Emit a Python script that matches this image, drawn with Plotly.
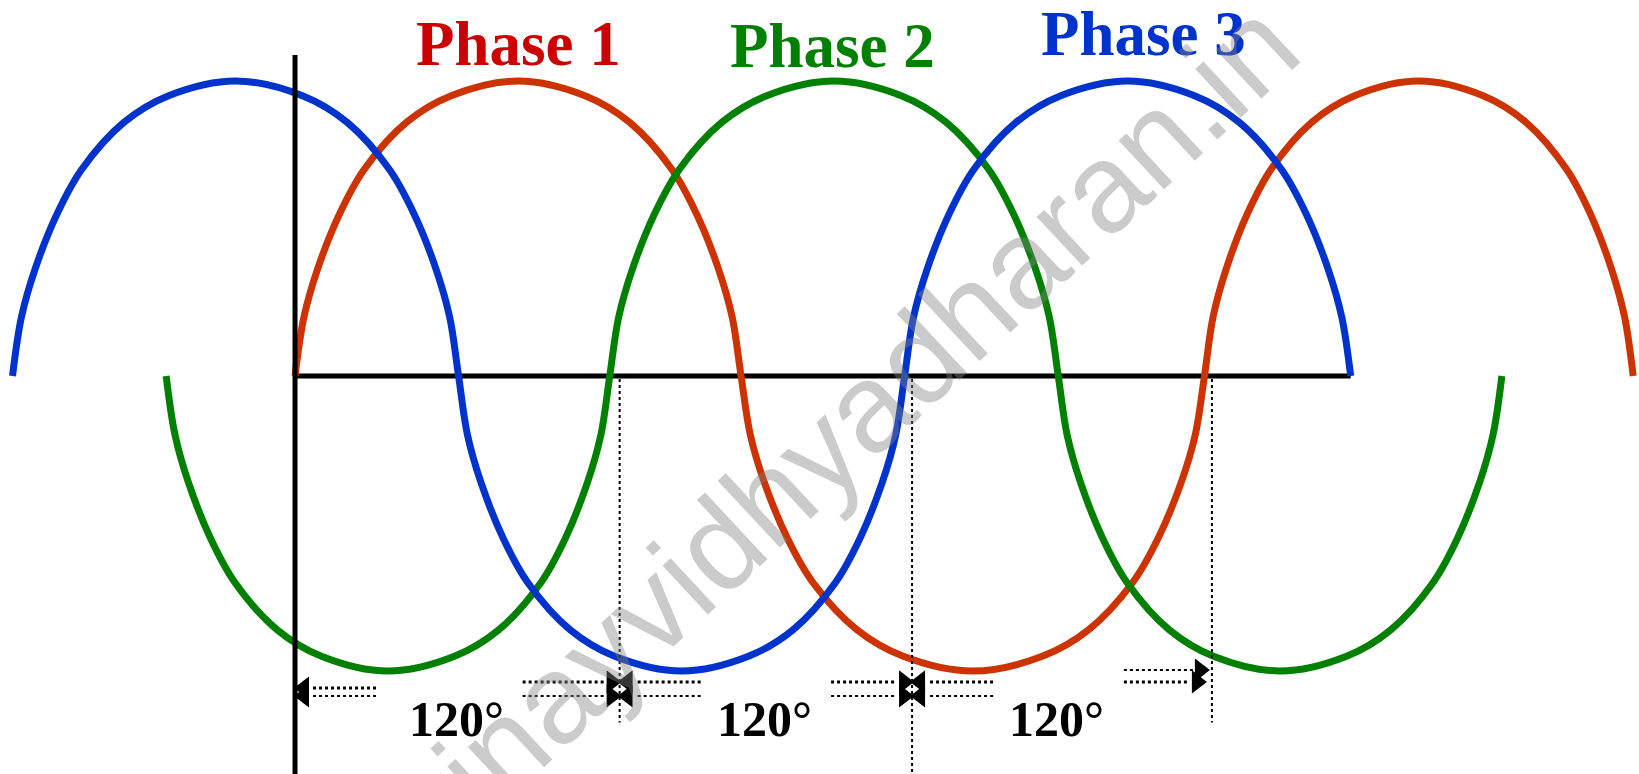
import plotly.graph_objects as go

# ---------------- data ----------------
# x axis is the phase angle in degrees (Phase 1 starts at 0 deg), y is the normalised amplitude
PHASE_NAMES = ["Phase 1", "Phase 2", "Phase 3"]
# zero crossings of each drawn waveform (degrees)
PHASE1_ZEROS = [0, 180, 367, 540]
PHASE2_ZEROS = [-52, 127, 308, 487]
PHASE3_ZEROS = [-114, 66, 246, 426]
# sign of the first half-cycle of each waveform
PHASE1_FIRST_SIGN = 1
PHASE2_FIRST_SIGN = -1
PHASE3_FIRST_SIGN = 1
# shape of one drawn half-cycle: amplitude at fractions of the half-cycle width
HALF_FRAC = [0, 0.02, 0.05, 0.10, 0.155, 0.25, 0.35, 0.50, 0.65, 0.75, 0.845, 0.90, 0.95, 0.98, 1.0]
HALF_AMP = [0, 0.20, 0.36, 0.55, 0.70, 0.86, 0.95, 1.00, 0.95, 0.86, 0.70, 0.55, 0.36, 0.20, 0]
# 120 degree marks along the time axis (degrees)
MARKS_DEG = [0, 131, 249, 370]
ANGLE_LABELS = ["120°", "120°", "120°"]
AXIS_END_DEG = 426
WATERMARK = "www.vinayvidhyadharan.in"

# ---------------- styling ----------------
CURVE_COLORS = ["#CC3300", "#008000", "#0033CC"]
TEXT_COLORS = ["#CC0000", "#008000", "#0033CC"]
W, H = 1639, 774
XR = [-119.05, 542.35]
YR = [-1.3492, 1.2746]


def waveform(zeros, first_sign):
    xs, ys = [], []
    for i in range(len(zeros) - 1):
        z0, z1 = zeros[i], zeros[i + 1]
        sign = first_sign * (-1) ** i
        for j, (f, a) in enumerate(zip(HALF_FRAC, HALF_AMP)):
            if i > 0 and j == 0:
                continue
            xs.append(z0 + f * (z1 - z0))
            ys.append(sign * a)
    return xs, ys


fig = go.Figure()

# horizontal zero axis
fig.add_trace(go.Scatter(x=[0, AXIS_END_DEG], y=[0, 0], mode="lines",
                         line=dict(color="black", width=5), hoverinfo="skip"))

waves = [(PHASE1_ZEROS, PHASE1_FIRST_SIGN), (PHASE2_ZEROS, PHASE2_FIRST_SIGN),
         (PHASE3_ZEROS, PHASE3_FIRST_SIGN)]
for (zeros, s), col, name in zip(waves, CURVE_COLORS, PHASE_NAMES):
    xs, ys = waveform(zeros, s)
    fig.add_trace(go.Scatter(x=xs, y=ys, mode="lines", name=name,
                             line=dict(color=col, width=7, shape="spline", smoothing=1.0)))

# vertical axis
fig.add_trace(go.Scatter(x=[0, 0], y=[1.088, YR[0]], mode="lines",
                         line=dict(color="black", width=5), hoverinfo="skip"))

# dotted vertical marks
vend = {131: -1.175, 249: YR[0], 370: -1.175}
for m in MARKS_DEG[1:]:
    fig.add_trace(go.Scatter(x=[m, m], y=[-0.01, vend[m]], mode="lines",
                             line=dict(color="black", width=2, dash="dot"), hoverinfo="skip"))

PX = (XR[1] - XR[0]) / W  # degrees per pixel
# arrows: (tail_deg, tip_deg, y, line width)
arrows = []
m0, m1, m2, m3 = MARKS_DEG
arrows += [(m0 + 81 * PX, m0 + 1 * PX, -1.058, 3), (m0 + 81 * PX, m0 + 1 * PX, -1.085, 2)]
arrows += [(m1 - 97 * PX, m1, -1.037, 3), (m1 - 97 * PX, m1, -1.085, 2)]
arrows += [(m1 + 81 * PX, m1, -1.037, 3), (m1 + 81 * PX, m1, -1.085, 2)]
arrows += [(m2 - 81 * PX, m2, -1.037, 3), (m2 - 81 * PX, m2, -1.085, 2)]
arrows += [(m2 + 81 * PX, m2, -1.037, 3), (m2 + 81 * PX, m2, -1.085, 2)]
arrows += [(m3 - 88 * PX, m3 - 4 * PX, -0.997, 2), (m3 - 88 * PX, m3 - 7 * PX, -1.037, 3)]
for tail, tip, y, lw in arrows:
    d = 1 if tip > tail else -1
    head_len = 15 * PX
    fig.add_trace(go.Scatter(x=[tail, tip - d * head_len], y=[y, y], mode="lines",
                             line=dict(color="black", width=lw, dash="dot"), hoverinfo="skip"))
    fig.add_trace(go.Scatter(x=[tip - d * 8 * PX], y=[y], mode="markers",
                             marker=dict(symbol="triangle-right" if d > 0 else "triangle-left",
                                         size=20, color="black"), hoverinfo="skip"))

annotations = []
label_x = [90.2, 216.7, 342.4]
label_y = [1.125, 1.119, 1.158]
for name, col, x, y in zip(PHASE_NAMES, TEXT_COLORS, label_x, label_y):
    annotations.append(dict(x=x, y=y, text="<b>%s</b>" % name, showarrow=False,
                            font=dict(family="Liberation Serif", size=63, color=col),
                            xanchor="center", yanchor="middle"))
for lab, x in zip(ANGLE_LABELS, [65, 189.3, 307.1]):
    annotations.append(dict(x=x, y=-1.164, text="<b>%s</b>" % lab, showarrow=False,
                            font=dict(family="Liberation Serif", size=50, color="black"),
                            xanchor="center", yanchor="middle"))
annotations.append(dict(x=733 / W, y=1 - 531 / H, xref="paper", yref="paper", text=WATERMARK,
                        showarrow=False, textangle=-43,
                        font=dict(family="Liberation Sans", size=126, color="rgba(130,130,130,0.42)"),
                        xanchor="center", yanchor="middle"))

fig.update_layout(
    width=W, height=H, autosize=False,
    margin=dict(l=0, r=0, t=0, b=0),
    paper_bgcolor="white", plot_bgcolor="white",
    showlegend=False,
    xaxis=dict(range=XR, visible=False, fixedrange=True),
    yaxis=dict(range=YR, visible=False, fixedrange=True),
    annotations=annotations,
)

fig.write_html("out.html", config={"displayModeBar": False},
               post_script="document.body.style.margin='0';document.body.style.overflow='hidden';")
